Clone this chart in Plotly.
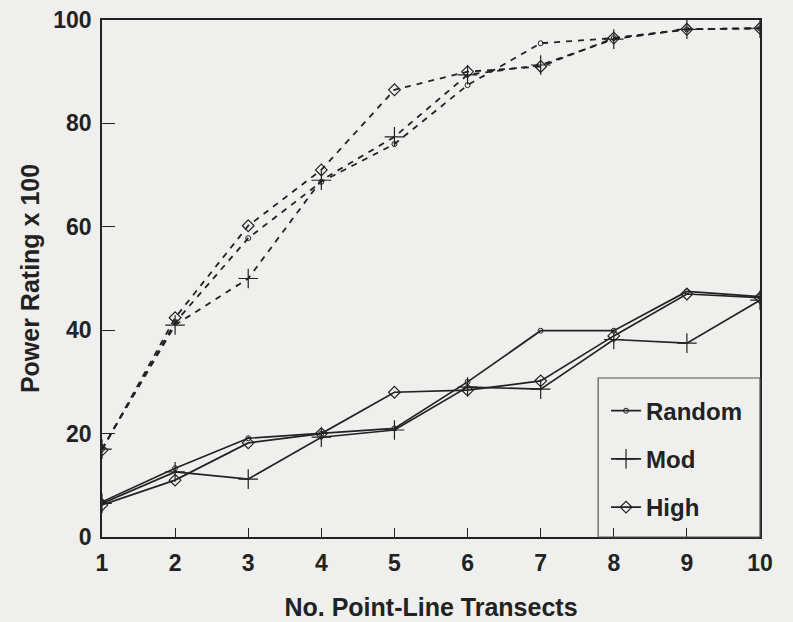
import plotly.graph_objects as go

x_transects = [1, 2, 3, 4, 5, 6, 7, 8, 9, 10]

# Upper (dashed) group
dash_random = [17, 41.5, 57.8, 68.7, 76, 87.4, 95.5, 96.5, 98.2, 98.4]
dash_mod = [17, 41, 50, 69, 77.4, 89.4, 91.3, 96.3, 98.2, 98.4]
dash_high = [16.8, 42.4, 60.2, 71, 86.5, 90, 91, 96.5, 98.2, 98.4]

# Lower (solid) group
solid_random = [6.8, 13.3, 19.1, 20, 21, 30, 39.9, 39.9, 47.5, 46.5]
solid_mod = [6.5, 12.6, 11.2, 19.3, 20.7, 29, 28.6, 38.2, 37.5, 45.8]
solid_high = [6.2, 11, 18.2, 20, 28, 28.4, 30.2, 38.9, 47, 46.3]

series_names = ["Random", "Mod", "High"]
y_ticks = [0, 20, 40, 60, 80, 100]

INK = "#222222"
BG = "#efefed"
FONT = "Liberation Sans, Arial, sans-serif"

markers = {
    "Random": dict(symbol="circle-open", size=5, line=dict(width=1, color=INK)),
    "Mod": dict(symbol="cross-thin-open", size=14, line=dict(width=1.2, color=INK)),
    "High": dict(symbol="diamond-open", size=9, line=dict(width=1.2, color=INK)),
}

fig = go.Figure()

for name, ys in zip(series_names, [dash_random, dash_mod, dash_high]):
    fig.add_trace(go.Scatter(
        x=x_transects, y=ys, mode="lines+markers", name=name,
        line=dict(color=INK, width=1.8, dash="6px,6px"),
        marker=dict(color=INK, **markers[name]),
        showlegend=False,
    ))

for i, (name, ys) in enumerate(zip(series_names, [solid_random, solid_mod, solid_high])):
    fig.add_trace(go.Scatter(
        x=x_transects, y=ys, mode="lines+markers", name=name,
        line=dict(color=INK, width=1.7),
        marker=dict(color=INK, **markers[name]),
        legendgroup="g%d" % i,
        showlegend=True,
    ))

fig.update_layout(
    width=793, height=622,
    paper_bgcolor=BG, plot_bgcolor=BG,
    margin=dict(l=102, r=33, t=20, b=85),
    font=dict(family=FONT, color=INK),
    showlegend=True,
    legend=dict(
        x=0.766, y=0.287, xanchor="left", yanchor="top",
        bgcolor="rgba(0,0,0,0)", borderwidth=0,
        font=dict(size=24, family=FONT, weight="bold", color=INK),
        tracegroupgap=14, itemwidth=30,
    ),
    shapes=[dict(
        type="rect", xref="paper", yref="paper",
        x0=0.754, x1=1.0, y0=0.0, y1=0.3075,
        line=dict(color="#555555", width=1.2), fillcolor="rgba(0,0,0,0)",
    )],
)

fig.update_xaxes(
    range=[1, 10], tickvals=x_transects, automargin=False,
    showline=True, mirror=True, linecolor=INK, linewidth=1.5,
    ticks="inside", ticklen=9, tickcolor=INK, tickwidth=1,
    showgrid=False, zeroline=False, ticklabelstandoff=5,
    tickfont=dict(size=23, weight="bold"),
    title=dict(text="No. Point-Line Transects", font=dict(size=25, weight="bold"), standoff=23),
)
fig.update_yaxes(
    range=[0, 100], tickvals=y_ticks, automargin=False,
    showline=True, mirror=True, linecolor=INK, linewidth=1.5,
    ticks="inside", ticklen=13, tickcolor=INK, tickwidth=1,
    showgrid=False, zeroline=False, ticklabelstandoff=4,
    tickfont=dict(size=23, weight="bold"),
    title=dict(text="Power Rating x 100", font=dict(size=25, weight="bold"), standoff=7),
)

fig.write_html(
    "out.html",
    config={"displayModeBar": False},
    post_script="document.body.style.margin='0';document.body.style.background='#efefed';",
)
